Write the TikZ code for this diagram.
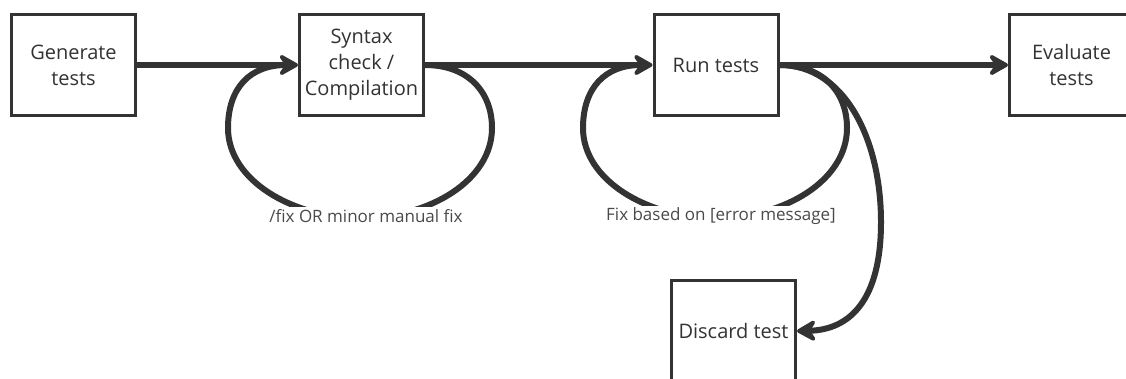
\documentclass[tikz,border=0pt]{standalone}
\usepackage{fontspec}
\setmainfont{Open Sans}
\usetikzlibrary{arrows.meta}
\definecolor{ink}{HTML}{333333}
\definecolor{labelink}{HTML}{4A4A4A}
\begin{document}
\begin{tikzpicture}[x=1pt,y=-1pt,
  box/.style={draw=ink, line width=3pt, fill=white, minimum width=124pt,
    minimum height=101pt, align=center, text=ink, inner sep=0pt,
    font=\fontsize{20}{26}\selectfont},
  flow/.style={draw=ink, line width=6pt,
    -{Stealth[length=24pt,width=27pt,inset=9pt,round]}},
  loopline/.style={draw=ink, line width=6pt},
  note/.style={fill=white, text=labelink, inner sep=2pt,
    font=\fontsize{17}{20}\selectfont}]
\clip (0,0) rectangle (1126,378);
\fill[white] (0,0) rectangle (1126,378);

% process steps
\node[box] (g) at (73.5,65) {Generate\\tests};
\node[box] (s) at (361.5,65) {Syntax\\check /\\Compilation};
\node[box] (r) at (716,65) {Run tests};
\node[box] (e) at (1071.5,65) {Evaluate\\tests};
\node[box] (d) at (733.5,331) {Discard test};

% retry loops under the check steps
\draw[loopline, shorten >=12pt] (s.east) .. controls (468,65) and (492,92) .. (492,128)
  .. controls (492,180) and (430,218) .. (361,218)
  .. controls (292,218) and (228,180) .. (228,128)
  .. controls (228,88) and (250,65) .. (s.west);
\draw[loopline, shorten >=12pt] (r.east) .. controls (823,65) and (847,92) .. (847,128)
  .. controls (847,180) and (785,218) .. (716,218)
  .. controls (647,218) and (583,180) .. (583,128)
  .. controls (583,88) and (605,65) .. (r.west);

% main flow
\draw[flow] (g.east) -- (s.west);
\draw[flow] (s.east) -- (r.west);
\draw[flow] (r.east) -- (e.west);
\draw[flow] (r.east) .. controls (845,65) and (881,140) .. (881,222)
  .. controls (881,300) and (850,330) .. (d.east);

% loop labels
\node[note] (l1) at (366,216) {/fix OR minor manual fix};
\node[note] (l2) at (721,216) {Fix based on [error message]};
\end{tikzpicture}
\end{document}
